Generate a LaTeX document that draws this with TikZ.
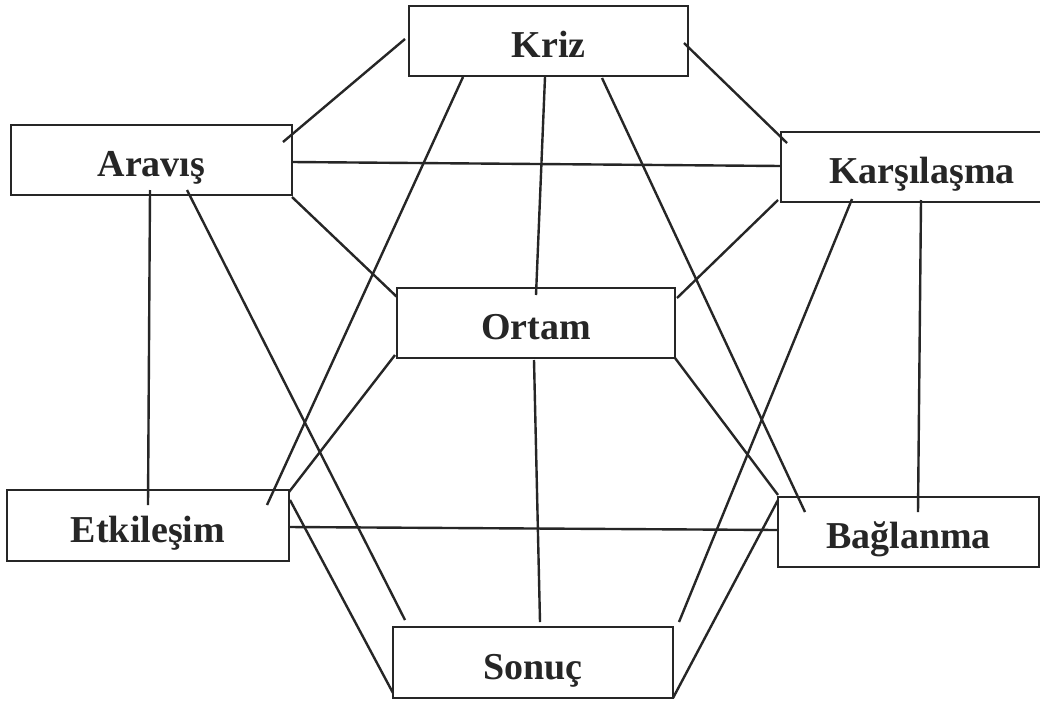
\documentclass[tikz,border=0pt]{standalone}
\usepackage{fontspec}
\setmainfont{Liberation Serif}
\usetikzlibrary{calc}
\begin{document}
\begin{tikzpicture}[x=1pt,y=-1pt,
  box/.style={draw=black!85, line width=2.6pt, inner sep=0pt, minimum height=70pt,
    font=\fontsize{38}{40}\selectfont\bfseries, text=black!85, text height=33pt, text depth=0pt},
  link/.style={draw=black!85, line width=2.4pt}]
\useasboundingbox[fill=white] (0,0) rectangle (1040,707);
\node[box, minimum width=279pt] (kriz)  at (548.5,41)  {Kriz};
\node[box, minimum width=281pt] (aravis) at (151.5,160) {Aravış};
\node[box, minimum width=282pt] (karsi) at (922,167)   {Karşılaşma};
\node[box, minimum width=278pt] (ortam) at (536,323)   {Ortam};
\node[box, minimum width=282pt, minimum height=71pt] (etki) at (148,525.5) {Etkileşim};
\node[box, minimum width=261pt] (bag)   at (908.5,532) {Bağlanma};
\node[box, minimum width=280pt, minimum height=71pt] (sonuc) at (533,662.5) {Sonuç};
% links
\draw[link] ($(kriz)+(-143.5,-2)$) -- ($(aravis)+(131.5,-18)$);
\draw[link] ($(kriz)+(-85.5,36)$) -- ($(etki)+(119,-20.5)$);
\draw[link] ($(kriz)+(-3.5,36)$) -- ($(ortam)+(0,-28)$);
\draw[link] ($(kriz)+(53.5,37)$) -- ($(bag)+(-103.5,-20)$);
\draw[link] ($(kriz)+(135.5,2)$) -- ($(karsi)+(-135,-24)$);
\draw[link] ($(aravis)+(140.5,2)$) -- ($(karsi)+(-141,-1)$);
\draw[link] ($(aravis)+(140.5,37)$) -- ($(ortam)+(-139,-26)$);
\draw[link] ($(aravis)+(-1.5,30)$) -- ($(etki)+(0,-20.5)$);
\draw[link] ($(aravis)+(35.5,30)$) -- ($(sonuc)+(-128,-42.5)$);
\draw[link] ($(karsi)+(-144,33)$) -- ($(ortam)+(141,-25)$);
\draw[link] ($(karsi)+(-70,32)$) -- ($(sonuc)+(146,-40.5)$);
\draw[link] ($(karsi)+(-1,33)$) -- ($(bag)+(9.5,-20)$);
\draw[link] ($(ortam)+(-141,32)$) -- ($(etki)+(141,-33.5)$);
\draw[link] ($(ortam)+(-2,37)$) -- ($(sonuc)+(7,-40.5)$);
\draw[link] ($(ortam)+(139,35)$) -- ($(bag)+(-130.5,-37)$);
\draw[link] ($(etki)+(141,1.5)$) -- ($(bag)+(-130.5,-2)$);
\draw[link] ($(etki)+(142,-25.5)$) -- ($(sonuc)+(-140,30.5)$);
\draw[link] ($(bag)+(-130.5,-32)$) -- ($(sonuc)+(140,35.5)$);
\end{tikzpicture}
\end{document}
